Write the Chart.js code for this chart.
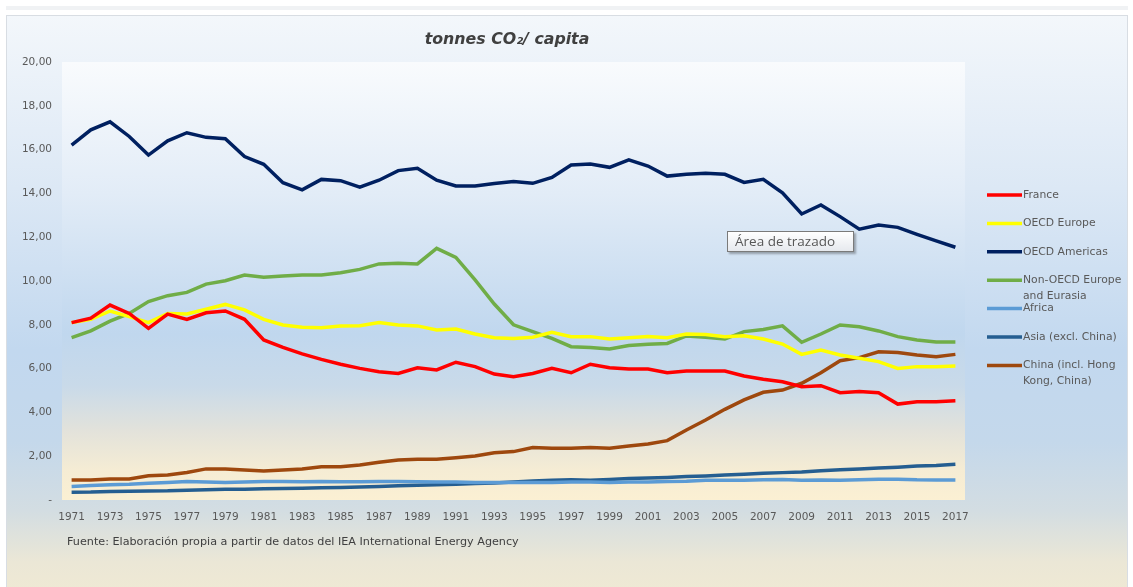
<!DOCTYPE html>
<html>
<head>
<meta charset="utf-8">
<script src="https://cdn.jsdelivr.net/npm/chart.js@4.4.1/dist/chart.umd.min.js"></script>
<style>
  html, body { margin:0; padding:0; background:#ffffff; }
  #wrap { position:relative; width:1133px; height:587px; overflow:hidden; }
  #topstrip { position:absolute; left:6px; top:6px; width:1122px; height:4px; background:#f0f2f4; }
  #frame { position:absolute; left:6px; top:15px; width:1120px; height:575px;
    border:1px solid #d8dde3;
    background: linear-gradient(to bottom, #f3f7fb 0%, #dce8f5 30%, #c2d8ef 58%, #c4d8eb 74%, #d3dde2 86%, #ebe7d6 95%, #efe9d4 100%); }
  #c { position:absolute; left:0; top:0; }
  #title { position:absolute; left:357px; width:300px; top:29px; text-align:center;
    font-family:"DejaVu Sans", sans-serif; font-weight:700; font-style:italic; font-size:15.8px; color:#404040; }
  #note { position:absolute; left:67px; top:535px; font-family:"DejaVu Sans", sans-serif; font-size:11.2px; color:#404040; white-space:nowrap; }
  #tip { position:absolute; left:727px; top:231px; width:127px; height:21px; box-sizing:border-box;
    border:1px solid #7a7a7a; background:linear-gradient(to bottom, #ffffff, #e6e9ee);
    box-shadow:2px 2px 2px rgba(0,0,0,0.3); font-family:"Open Sans", sans-serif; font-size:13.5px;
    color:#575757; line-height:19px; padding-left:7px; white-space:nowrap; }
</style>
</head>
<body>
<div id="wrap">
  <div id="topstrip"></div>
  <div id="frame"></div>
  <canvas id="c" width="1133" height="587"></canvas>
  <div id="title">tonnes CO₂/ capita</div>
  <div id="note">Fuente: Elaboración propia a partir de datos del IEA International Energy Agency</div>
  <div id="tip">Área de trazado</div>
</div>
<script>
const years = [1971,1972,1973,1974,1975,1976,1977,1978,1979,1980,
  1981,1982,1983,1984,1985,1986,1987,1988,1989,1990,
  1991,1992,1993,1994,1995,1996,1997,1998,1999,2000,
  2001,2002,2003,2004,2005,2006,2007,2008,2009,2010,
  2011,2012,2013,2014,2015,2016,2017];

const france = [8.10,8.30,8.90,8.52,7.84,8.49,8.25,8.55,8.63,8.25,
  7.31,6.97,6.67,6.42,6.20,6.01,5.86,5.78,6.04,5.94,
  6.29,6.09,5.75,5.63,5.78,6.01,5.81,6.20,6.04,5.98,
  5.98,5.81,5.89,5.89,5.89,5.66,5.51,5.40,5.17,5.22,
  4.90,4.95,4.90,4.38,4.49,4.49,4.53];

const oecdEurope = [8.10,8.25,8.63,8.37,8.10,8.52,8.49,8.71,8.93,8.68,
  8.25,7.99,7.89,7.87,7.95,7.96,8.10,7.99,7.95,7.76,
  7.81,7.58,7.41,7.38,7.43,7.66,7.46,7.46,7.35,7.41,
  7.46,7.41,7.58,7.56,7.46,7.50,7.35,7.12,6.65,6.85,
  6.62,6.47,6.32,6.01,6.09,6.09,6.12];

const oecdAmericas = [16.20,16.90,17.27,16.60,15.75,16.40,16.77,16.56,16.50,15.68,
  15.33,14.49,14.16,14.64,14.58,14.28,14.60,15.04,15.15,14.60,
  14.34,14.34,14.45,14.54,14.46,14.73,15.30,15.34,15.19,15.53,
  15.25,14.79,14.87,14.92,14.87,14.50,14.64,14.03,13.06,13.47,
  12.94,12.37,12.56,12.45,12.13,11.83,11.54];

const nonOecdEurasia = [7.41,7.72,8.17,8.52,9.06,9.33,9.48,9.86,10.01,10.27,
  10.17,10.23,10.27,10.27,10.38,10.53,10.78,10.81,10.78,11.49,
  11.08,10.05,8.95,8.00,7.69,7.38,7.00,6.96,6.90,7.05,
  7.11,7.15,7.49,7.43,7.35,7.69,7.79,7.95,7.20,7.58,
  7.99,7.91,7.72,7.46,7.31,7.21,7.21];

const africa = [0.62,0.66,0.70,0.72,0.76,0.80,0.84,0.82,0.80,0.82,
  0.84,0.84,0.83,0.84,0.83,0.83,0.84,0.84,0.83,0.82,
  0.82,0.80,0.80,0.80,0.80,0.80,0.82,0.82,0.80,0.82,
  0.82,0.84,0.86,0.90,0.90,0.90,0.92,0.94,0.90,0.91,
  0.90,0.92,0.95,0.95,0.92,0.91,0.91];

const asiaExclChina = [0.35,0.36,0.39,0.40,0.41,0.42,0.45,0.47,0.49,0.49,
  0.51,0.52,0.54,0.56,0.57,0.59,0.62,0.65,0.67,0.70,
  0.72,0.75,0.78,0.82,0.87,0.90,0.92,0.90,0.94,0.98,
  1.00,1.03,1.07,1.10,1.14,1.18,1.22,1.25,1.28,1.34,
  1.38,1.42,1.46,1.50,1.55,1.58,1.63];

const china = [0.91,0.91,0.96,0.96,1.11,1.14,1.26,1.42,1.42,1.37,
  1.32,1.37,1.42,1.52,1.52,1.60,1.72,1.83,1.86,1.86,
  1.93,2.01,2.16,2.21,2.40,2.36,2.36,2.40,2.36,2.47,
  2.56,2.71,3.20,3.65,4.14,4.57,4.92,5.02,5.33,5.81,
  6.36,6.50,6.77,6.73,6.62,6.54,6.65];

const seriesNames = ['France','OECD Europe','OECD Americas','Non-OECD Europe and Eurasia',
  'Africa','Asia (excl. China)','China (incl. Hong Kong, China)'];
const seriesValues = [france, oecdEurope, oecdAmericas, nonOecdEurasia, africa, asiaExclChina, china];
const seriesColors = ['#ff0000','#ffff00','#002060','#70ad47','#5b9bd5','#255e91','#9e480e'];
const yTickMin = 0, yTickMax = 20, yTickStep = 2;

const TICK_FONT = {family:'DejaVu Sans', size:10.5};

const plotBg = {
  id:'plotBg',
  beforeDraw(chart){
    const {ctx, chartArea:a} = chart;
    const g = ctx.createLinearGradient(0, a.top, 0, a.bottom);
    g.addColorStop(0, '#f9fbfd');
    g.addColorStop(0.30, '#e2ecf7');
    g.addColorStop(0.62, '#c0d7ee');
    g.addColorStop(0.74, '#c9dae9');
    g.addColorStop(0.84, '#e2e2db');
    g.addColorStop(0.93, '#f5ecd4');
    g.addColorStop(1, '#fbf0d3');
    ctx.save();
    ctx.fillStyle = g;
    ctx.fillRect(a.left, a.top, a.right - a.left, a.bottom - a.top);
    ctx.restore();
  }
};

const sideLegend = {
  id:'sideLegend',
  afterDraw(chart){
    const ctx = chart.ctx;
    ctx.save();
    ctx.font = '10.8px "DejaVu Sans"';
    ctx.textBaseline = 'middle';
    ctx.textAlign = 'left';
    const x0 = 987, lineLen = 35, tx = 1023, maxW = 106;
    chart.data.datasets.forEach((ds, i) => {
      const y = 195 + i * 28.4;
      ctx.strokeStyle = ds.borderColor;
      ctx.lineWidth = 3.5;
      ctx.lineCap = 'butt';
      ctx.beginPath(); ctx.moveTo(x0, y); ctx.lineTo(x0 + lineLen, y); ctx.stroke();
      const words = ds.label.split(' ');
      const lines = []; let cur = '';
      words.forEach(w => {
        const t = cur ? cur + ' ' + w : w;
        if (ctx.measureText(t).width > maxW && cur) { lines.push(cur); cur = w; } else cur = t;
      });
      if (cur) lines.push(cur);
      ctx.fillStyle = '#595959';
      lines.forEach((ln, k) => ctx.fillText(ln, tx, y + k * 15.5));
    });
    ctx.restore();
  }
};

new Chart(document.getElementById('c'), {
  type:'line',
  data:{
    labels: years,
    datasets: seriesNames.map((n, i) => ({
      label: n,
      data: seriesValues[i],
      borderColor: seriesColors[i],
      backgroundColor: seriesColors[i],
      borderWidth: 3.5,
      pointRadius: 0,
      pointHoverRadius: 0,
      tension: 0,
      fill: false
    }))
  },
  options:{
    responsive:false,
    animation:false,
    events:[],
    layout:{ padding:{ left:0, top:62, right:168, bottom:0 } },
    plugins:{ legend:{display:false}, tooltip:{enabled:false}, title:{display:false} },
    scales:{
      x:{
        type:'category',
        offset:true,
        grid:{display:false, drawTicks:false},
        border:{display:false},
        afterFit(s){ s.height = 87; },
        ticks:{
          autoSkip:false, maxRotation:0, minRotation:0, padding:11,
          color:'#595959', font:TICK_FONT,
          callback(v, i){ return i % 2 === 0 ? this.getLabelForValue(v) : ''; }
        }
      },
      y:{
        min:yTickMin, max:yTickMax,
        grid:{display:false, drawTicks:false},
        border:{display:false},
        afterFit(s){ s.width = 62; },
        ticks:{
          stepSize:yTickStep, padding:10, color:'#595959', font:TICK_FONT,
          callback(v){ return v === 0 ? '-' : v.toFixed(2).replace('.', ','); }
        }
      }
    }
  },
  plugins:[plotBg, sideLegend]
});
</script>
</body>
</html>
